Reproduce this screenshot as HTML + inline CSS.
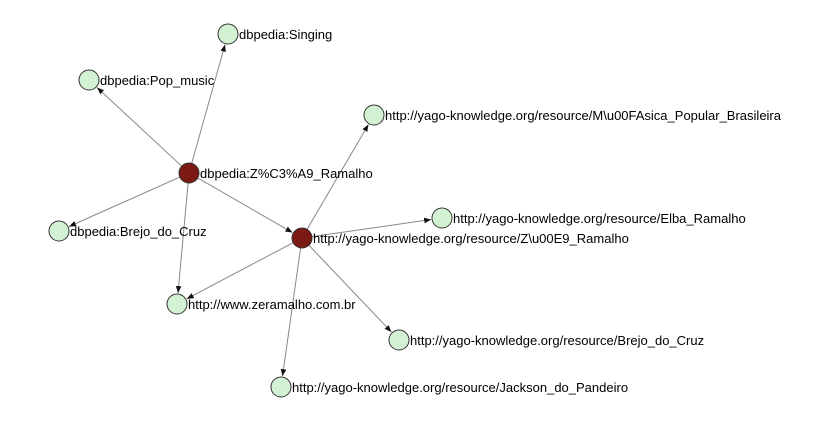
<!DOCTYPE html>
<html><head><meta charset="utf-8"><style>
html,body{margin:0;padding:0;background:#fff;}
svg{display:block;font-family:"Liberation Sans",sans-serif;}
</style></head><body>
<svg id="g" width="827" height="432">
<defs><marker id="arr" viewBox="0 0 10 10" refX="10" refY="5" markerWidth="7" markerHeight="7" orient="auto"><path d="M0,1 L10,5 L0,9 z" fill="#111"/></marker></defs>
</svg>
<script>
const nodeNames=["dbpedia:Singing","dbpedia:Pop_music","dbpedia:Z%C3%A9_Ramalho","dbpedia:Brejo_do_Cruz","http://www.zeramalho.com.br","http://yago-knowledge.org/resource/Z\\u00E9_Ramalho","http://yago-knowledge.org/resource/M\\u00FAsica_Popular_Brasileira","http://yago-knowledge.org/resource/Elba_Ramalho","http://yago-knowledge.org/resource/Brejo_do_Cruz","http://yago-knowledge.org/resource/Jackson_do_Pandeiro"];
const nodeX=[228,89,189,59,177,302,374,442,399,281];
const nodeY=[34,80,173,231,304,238,115,218,340,387];
const nodeMain=[0,0,1,0,0,1,0,0,0,0];
const edgeFrom=[2,2,2,2,2,5,5,5,5,5];
const edgeTo=[0,1,3,4,5,6,7,8,9,4];
const svg=document.getElementById('g');
const NS='http://www.w3.org/2000/svg';
const R=10;
for(let i=0;i<edgeFrom.length;i++){
  const a=edgeFrom[i],b=edgeTo[i];
  const dx=nodeX[b]-nodeX[a],dy=nodeY[b]-nodeY[a],d=Math.hypot(dx,dy);
  const l=document.createElementNS(NS,'line');
  l.setAttribute('x1',nodeX[a]+dx/d*R);l.setAttribute('y1',nodeY[a]+dy/d*R);
  l.setAttribute('x2',nodeX[b]-dx/d*(R+1));l.setAttribute('y2',nodeY[b]-dy/d*(R+1));
  l.setAttribute('stroke','#888');l.setAttribute('stroke-width','1');
  l.setAttribute('marker-end','url(#arr)');
  
  
  svg.appendChild(l);
}
for(let i=0;i<nodeNames.length;i++){
  const c=document.createElementNS(NS,'circle');
  c.setAttribute('cx',nodeX[i]);c.setAttribute('cy',nodeY[i]);c.setAttribute('r',R);
  c.setAttribute('fill',nodeMain[i]?'#7a1a12':'#d3f2d3');
  c.setAttribute('stroke','#333');c.setAttribute('stroke-width','1');
  
  
  svg.appendChild(c);
  const t=document.createElementNS(NS,'text');
  t.setAttribute('x',nodeX[i]+11);t.setAttribute('y',nodeY[i]+5);
  t.setAttribute('font-size','13');t.setAttribute('fill','#000');
  t.textContent=nodeNames[i];
  
  
  svg.appendChild(t);
}
</script>
</body></html>
